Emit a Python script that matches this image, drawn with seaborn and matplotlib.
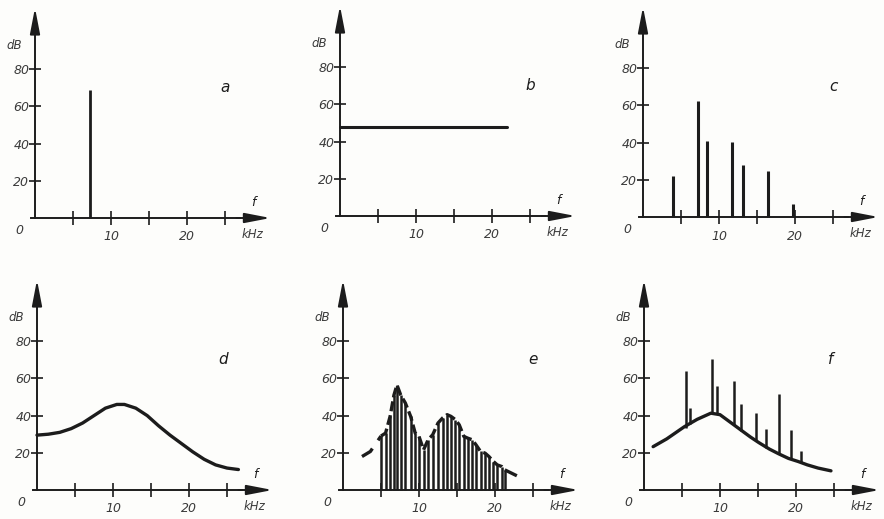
import matplotlib
matplotlib.use("Agg")
import matplotlib.pyplot as plt
import seaborn as sns

# panel a: single tone
a_freq = [7.3]
a_level = [69]

# panel b: flat (white) noise
b_freq = [0, 22]
b_level = [48, 48]

# panel c: line spectrum
c_freq = [4.0, 7.3, 8.4, 11.7, 13.1, 16.5, 19.7]
c_level = [22, 62.5, 41, 40.5, 28, 24.5, 7]

# panel d: continuous spectrum
d_freq = [0, 1.5, 3, 4.5, 6, 7.5, 9, 10.5, 11.5, 13, 14.5, 16, 17.5, 19, 20.5, 22, 23.5, 25, 26.5]
d_level = [29.5, 30, 31, 33, 36, 40, 44, 46, 46, 44, 40, 34.5, 29.5, 25, 20.5, 16.5, 13.5, 11.8, 11]

# panel e: dense lines with envelope
e_freq = [5.0, 5.6, 6.2, 6.7, 7.1, 7.6, 8.2, 8.9, 9.5, 10.0, 10.6, 11.2, 11.8, 12.5, 13.1,
          13.7, 14.2, 14.8, 15.3, 15.9, 16.4, 17.0, 17.5, 18.1, 18.7, 19.2, 19.8, 20.3, 20.9, 21.3]
e_level = [29, 30.6, 39.6, 51, 56.5, 51, 46.8, 39.6, 30.6, 28.8, 21.6, 27, 29.7, 36, 38.7,
           40.5, 39.6, 37.8, 35, 28.8, 27.9, 27, 24.3, 20.7, 19.8, 18, 15.3, 13.5, 12.6, 10.8]
e_env_left_freq = [2.5, 3.6, 5.0]
e_env_left_level = [18, 20.7, 29]
e_env_right_freq = [21.3, 22.2, 23.4]
e_env_right_level = [10.8, 9.0, 6.6]

# panel f: noise curve with superposed tones
f_curve_freq = [1.2, 3, 5.3, 7, 8.8, 10, 11, 12.5, 14, 15.1, 16.5, 17.7, 19, 20.3, 21.5, 22.9, 24.6]
f_curve_level = [23.3, 27.5, 34, 38, 41.3, 40.5, 37.5, 33, 28.5, 25.5, 22, 19.5, 17, 15.3, 13.5, 11.8, 10.3]
f_freq = [5.5, 6.1, 9.0, 9.6, 11.8, 12.8, 14.8, 16.1, 17.8, 19.4, 20.6]
f_top = [64, 44, 70.5, 55.7, 58.4, 46.5, 41.6, 33, 51.4, 32, 21]
f_base = [33.5, 35.5, 41.3, 40.8, 35, 31.5, 26.5, 22.5, 19.3, 16.8, 15]

panel_names = ["a", "b", "c", "d", "e", "f"]
y_ticks = [20, 40, 60, 80]
x_ticks = [5, 10, 15, 20, 25]
x_ticklabels = ["", "10", "", "20", ""]

INK = "#1c1c1c"
TXT = "#3a3a3a"

W, H = 884, 519
origins = {"a": (35, 218), "b": (340, 216), "c": (643, 217),
           "d": (37, 490), "e": (343, 490), "f": (644, 490)}
SX, SY = 7.6, 1.86
XLIM = (-4.5, 31.5)
YLIM = (-14, 116)


def make_axes(fig, name):
    ox, oy = origins[name]
    left = ox + XLIM[0] * SX
    right = ox + XLIM[1] * SX
    top = oy - YLIM[1] * SY
    bottom = oy - YLIM[0] * SY
    ax = fig.add_axes([left / W, 1 - bottom / H, (right - left) / W, (bottom - top) / H])
    ax.set_xlim(*XLIM)
    ax.set_ylim(*YLIM)
    ax.patch.set_alpha(0)
    for side in ["top", "right"]:
        ax.spines[side].set_visible(False)
    ax.spines["left"].set_position(("data", 0))
    ax.spines["bottom"].set_position(("data", 0))
    ax.spines["left"].set_bounds(0, 104)
    ax.spines["bottom"].set_bounds(-0.5, 27)
    for side in ["left", "bottom"]:
        ax.spines[side].set_color(INK)
        ax.spines[side].set_linewidth(1.4)
    arrow = dict(arrowstyle="-|>,head_length=1.3,head_width=0.25", color=INK, lw=1.4,
                 shrinkA=0, shrinkB=0)
    ax.annotate("", xy=(0, 113), xytext=(0, 103), arrowprops=arrow, annotation_clip=False)
    ax.annotate("", xy=(31, 0), xytext=(26.5, 0), arrowprops=arrow, annotation_clip=False)

    ax.set_yticks(y_ticks)
    ax.set_yticklabels([str(v) for v in y_ticks])
    ax.set_xticks(x_ticks)
    ax.set_xticklabels(x_ticklabels)
    ax.tick_params(axis="y", left=True, direction="inout", length=8, width=1.2, pad=0,
                   colors=INK, labelcolor=TXT, labelsize=9)
    ax.tick_params(axis="x", bottom=True, direction="inout", length=10, width=1.2, pad=4,
                   colors=INK, labelcolor=TXT, labelsize=9)
    for lab in ax.get_xticklabels() + ax.get_yticklabels():
        lab.set_fontstyle("italic")

    ax.text(-2.8, 93, "dB", ha="center", va="center", fontsize=8.5, style="italic", color=TXT)
    ax.text(-2.0, -6.5, "0", ha="center", va="center", fontsize=9, style="italic", color=TXT)
    ax.text(28.6, -9, "kHz", ha="center", va="center", fontsize=8.5, style="italic", color=TXT)
    ax.text(28.7, 8.5, "f", ha="center", va="center", fontsize=9, style="italic", color=INK)
    ax.text(25 if name in "abce" else 24.5, 70, name, ha="center", va="center",
            fontsize=11, style="italic", color=INK)
    return ax


sns.set_theme(style="white")
plt.rcParams["font.family"] = ["DejaVu Sans"]

fig = plt.figure(figsize=(W / 100, H / 100), dpi=100)
fig.patch.set_facecolor("#fdfdfb")
axes = {n: make_axes(fig, n) for n in panel_names}

# a
axes["a"].vlines(a_freq, 0, a_level, color=INK, lw=2.0)

# b
sns.lineplot(x=b_freq, y=b_level, ax=axes["b"], color=INK, lw=2.2)

# c
axes["c"].vlines(c_freq, 0, c_level, color=INK, lw=2.2)

# d
sns.lineplot(x=d_freq, y=d_level, ax=axes["d"], color=INK, lw=2.4, sort=False)

# e: envelope dashed in the tails, capped over the lines
axes["e"].vlines(e_freq, 0, e_level, color=INK, lw=1.8)
sns.lineplot(x=e_freq, y=e_level, ax=axes["e"], color=INK, lw=2.4, sort=False,
             linestyle=(0, (3, 1.2)))
sns.lineplot(x=e_env_left_freq, y=e_env_left_level, ax=axes["e"], color=INK, lw=2.4,
             sort=False, linestyle=(0, (4, 3)))
sns.lineplot(x=e_env_right_freq, y=e_env_right_level, ax=axes["e"], color=INK, lw=2.4,
             sort=False, linestyle=(0, (4, 3)))

# f
sns.lineplot(x=f_curve_freq, y=f_curve_level, ax=axes["f"], color=INK, lw=2.4, sort=False)
axes["f"].vlines(f_freq, f_base, f_top, color=INK, lw=1.8)

fig.savefig("out.png", dpi=100, facecolor=fig.get_facecolor())
